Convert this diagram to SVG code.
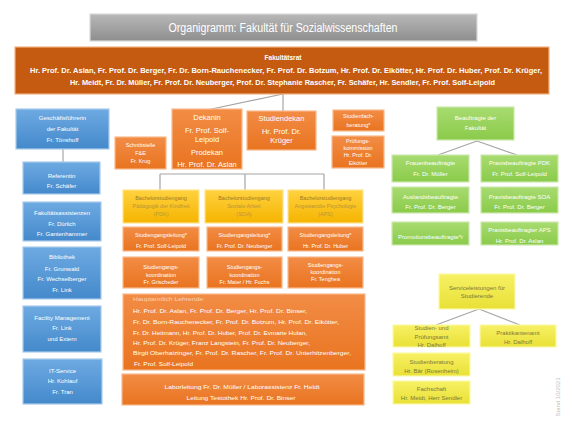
<svg xmlns="http://www.w3.org/2000/svg" width="572" height="429" viewBox="0 0 572 429">
<defs>
<linearGradient id="gGray" x1="0" y1="0" x2="0" y2="1"><stop offset="0" stop-color="#b8b8b8"/><stop offset="1" stop-color="#8e8e8e"/></linearGradient>
<linearGradient id="gOr" x1="0" y1="0" x2="0" y2="1"><stop offset="0" stop-color="#f28c45"/><stop offset="1" stop-color="#e97420"/></linearGradient>
<linearGradient id="gBl" x1="0" y1="0" x2="0" y2="1"><stop offset="0" stop-color="#6eaae2"/><stop offset="1" stop-color="#4489cb"/></linearGradient>
<linearGradient id="gGr" x1="0" y1="0" x2="0" y2="1"><stop offset="0" stop-color="#a8db70"/><stop offset="1" stop-color="#8acb4a"/></linearGradient>
<linearGradient id="gGo" x1="0" y1="0" x2="0" y2="1"><stop offset="0" stop-color="#ffd23f"/><stop offset="1" stop-color="#f5b400"/></linearGradient>
<linearGradient id="gYe" x1="0" y1="0" x2="0" y2="1"><stop offset="0" stop-color="#f7f165"/><stop offset="1" stop-color="#e9e036"/></linearGradient>
</defs>
<style>
text { font-family: "Liberation Sans", Arial, sans-serif; text-anchor: middle; }
.gray { fill: url(#gGray); stroke: #d9d9d9; stroke-width: 1.2; }
.dor { fill: #c55a11; stroke: #f4b183; stroke-width: 1.2; }
.or { fill: url(#gOr); stroke: #f8b98c; stroke-width: 1.2; }
.bl { fill: url(#gBl); stroke: #a9cbec; stroke-width: 1.2; }
.gr { fill: url(#gGr); stroke: #cde8b0; stroke-width: 1.2; }
.go { fill: url(#gGo); stroke: #ffe38a; stroke-width: 1.2; }
.ye { fill: url(#gYe); stroke: #fbf8a8; stroke-width: 1.2; }
.w { fill: #ffffff; }
.f6 { font-size: 6px; }
.f55 { font-size: 5.5px; }
.f75 { font-size: 7.5px; }
.b { font-weight: bold; }
.got1 { fill: #9c7a2a; font-size: 5.5px; }
.got2 { fill: #b8953c; font-size: 5.5px; }
.yt { fill: #7b7a3c; font-size: 6px; }
.lt { text-anchor: start; font-size: 5.6px; fill: #ffffff; }
.conn { stroke: #a6a6a6; stroke-width: 1.2; fill: none; }
</style>

<g id="connectors">
<path class="conn" d="M283,94 L207,110 M283,94 L283,111"/>
<path class="conn" d="M63,149 V162"/>
<path class="conn" d="M160,174 H324 M160,174 V190 M245,174 V190 M324,174 V190"/>
<path class="conn" d="M477,141 L438,155 M477,141 L517,155"/>
<path class="conn" d="M479,309 L436,325 M479,309 L520,325"/>
</g>

<g id="title">
<rect class="gray" x="90" y="14" width="387" height="27"/>
<text class="w" x="283" y="32" font-size="12" textLength="229" lengthAdjust="spacingAndGlyphs">Organigramm: Fakultät für Sozialwissenschaften</text>
</g>

<g id="fakultaetsrat">
<rect class="dor" x="15" y="47" width="534" height="47"/>
<text class="w b" x="283" y="60" font-size="6.5">Fakultätsrat</text>
<text class="w b" x="286" y="73" font-size="6.5" textLength="512" lengthAdjust="spacingAndGlyphs">Hr. Prof. Dr. Aslan, Fr. Prof. Dr. Berger, Fr. Dr. Born-Rauchenecker, Fr. Prof. Dr. Botzum, Hr. Prof. Dr. Eikötter, Hr. Prof. Dr. Huber, Prof. Dr. Krüger,</text>
<text class="w b" x="282.5" y="85" font-size="6.5" textLength="425" lengthAdjust="spacingAndGlyphs">Hr. Meidt, Fr. Dr. Müller, Fr. Prof. Dr. Neuberger, Prof. Dr. Stephanie Rascher,  Fr. Schäfer, Hr. Sendler, Fr. Prof. Solf-Leipold</text>
</g>

<g id="geschaeftsfuehrerin">
<rect class="bl" x="16" y="109" width="93" height="40"/>
<text class="w f6" x="62.5" y="120">Geschäftsführerin</text>
<text class="w f6" x="62.5" y="131">der Fakultät</text>
<text class="w f6" x="62.5" y="142">Fr. Tönshoff</text>
</g>
<g id="referentin">
<rect class="bl" x="23" y="162" width="77" height="32"/>
<text class="w f6" x="61.5" y="178">Referentin</text>
<text class="w f6" x="61.5" y="188">Fr. Schäfer</text>
</g>
<g id="fakultaetsassistenzen">
<rect class="bl" x="23" y="202" width="78" height="39"/>
<text class="w f6" x="62" y="215">Fakultätsassistenzen</text>
<text class="w f6" x="62" y="226">Fr. Dürlich</text>
<text class="w f6" x="62" y="236">Fr. Gantenhammer</text>
</g>
<g id="bibliothek">
<rect class="bl" x="23" y="247" width="78" height="52"/>
<text class="w f6" x="62" y="259">Bibliothek</text>
<text class="w f6" x="62" y="271">Fr. Grunwald</text>
<text class="w f6" x="62" y="281">Fr. Wechselberger</text>
<text class="w f6" x="62" y="292">Fr. Link</text>
</g>
<g id="facility">
<rect class="bl" x="23" y="306" width="78" height="46"/>
<text class="w f6" x="62" y="320">Facility Management</text>
<text class="w f6" x="62" y="330">Fr. Link</text>
<text class="w f6" x="62" y="341">und Extern</text>
</g>
<g id="itservice">
<rect class="bl" x="23" y="359" width="79" height="45"/>
<text class="w f6" x="62.5" y="373">IT-Service</text>
<text class="w f6" x="62.5" y="383">Hr. Kohlauf</text>
<text class="w f6" x="62.5" y="394">Fr. Tran</text>
</g>

<g id="schnittstelle">
<rect class="or" x="115" y="137" width="51" height="32"/>
<text class="w f55" x="140.5" y="147">Schnittstelle</text>
<text class="w f55" x="140.5" y="155">F&amp;E</text>
<text class="w f55" x="140.5" y="163">Fr. Krug</text>
</g>
<g id="dekanin">
<rect class="or" x="172" y="109" width="70" height="60"/>
<text class="w f75" x="207" y="120">Dekanin</text>
<text class="w f75" x="207" y="133">Fr. Prof. Solf-</text>
<text class="w f75" x="207" y="142">Leipold</text>
<text class="w f75" x="207" y="155">Prodekan</text>
<text class="w f75" x="207" y="167">Hr. Prof. Dr. Aslan</text>
</g>
<g id="studiendekan">
<rect class="or" x="247" y="111" width="69" height="39"/>
<text class="w f75" x="281.5" y="121">Studiendekan</text>
<text class="w f75" x="281.5" y="134">Hr. Prof. Dr.</text>
<text class="w f75" x="281.5" y="143">Krüger</text>
</g>
<g id="studienfachberatung">
<rect class="or" x="333" y="110" width="51" height="21"/>
<text class="w f55" x="358.5" y="118">Studienfach-</text>
<text class="w f55" x="358.5" y="127">beratung*</text>
</g>
<g id="pruefungskommission">
<rect class="or" x="332" y="136" width="52" height="32"/>
<text class="w f55" x="358" y="143">Prüfungs-</text>
<text class="w f55" x="358" y="150">kommission</text>
<text class="w f55" x="358" y="157">Hr. Prof. Dr.</text>
<text class="w f55" x="358" y="165">Eikötter</text>
</g>

<g id="ba-pdk">
<rect class="go" x="123" y="190" width="76" height="33"/>
<text class="got1" x="161" y="200">Bachelorstudiengang</text>
<text class="got2" x="161" y="208">Pädagogik der Kindheit</text>
<text class="got2" x="161" y="216">(PDK)</text>
</g>
<g id="ba-soa">
<rect class="go" x="205" y="190" width="78" height="33"/>
<text class="got1" x="244" y="200">Bachelorstudiengang</text>
<text class="got2" x="244" y="208">Soziale Arbeit</text>
<text class="got2" x="244" y="216">(SOA)</text>
</g>
<g id="ba-aps">
<rect class="go" x="288" y="190" width="75" height="33"/>
<text class="got1" x="325.5" y="200">Bachelorstudiengang</text>
<text class="got2" x="325.5" y="208">Angewandte Psychologie</text>
<text class="got2" x="325.5" y="216">(APS)</text>
</g>

<g id="sgl-pdk">
<rect class="or" x="123" y="227" width="76" height="24"/>
<text class="w f55" x="161" y="237">Studiengangsleitung*</text>
<text class="w f55" x="161" y="248">Fr. Prof. Solf-Leipold</text>
</g>
<g id="sgl-soa">
<rect class="or" x="207" y="227" width="75" height="24"/>
<text class="w f55" x="244.5" y="237">Studiengangsleitung*</text>
<text class="w f55" x="244.5" y="248">Fr. Prof. Dr. Neuberger</text>
</g>
<g id="sgl-aps">
<rect class="or" x="288" y="227" width="75" height="24"/>
<text class="w f55" x="325.5" y="237">Studiengangsleitung*</text>
<text class="w f55" x="325.5" y="248">Hr. Prof. Dr. Huber</text>
</g>

<g id="sgk-pdk">
<rect class="or" x="123" y="257" width="76" height="31"/>
<text class="w f55" x="161" y="269">Studiengangs-</text>
<text class="w f55" x="161" y="277">koordination</text>
<text class="w f55" x="161" y="284">Fr. Grischeder</text>
</g>
<g id="sgk-soa">
<rect class="or" x="207" y="257" width="75" height="31"/>
<text class="w f55" x="244.5" y="269">Studiengangs-</text>
<text class="w f55" x="244.5" y="277">koordination</text>
<text class="w f55" x="244.5" y="284">Fr. Maier / Hr. Fuchs</text>
</g>
<g id="sgk-aps">
<rect class="or" x="288" y="257" width="75" height="31"/>
<text class="w f55" x="325.5" y="267">Studiengangs-</text>
<text class="w f55" x="325.5" y="274">koordination</text>
<text class="w f55" x="325.5" y="281">Fr. Tenghea</text>
</g>

<g id="lehrende">
<rect class="or" x="123" y="294" width="242" height="76"/>
<text class="lt" x="133" y="301" style="fill:#fbd3b6" textLength="72" lengthAdjust="spacingAndGlyphs">Hauptamtlich Lehrende:</text>
<text class="lt" x="133" y="313" textLength="174" lengthAdjust="spacingAndGlyphs">Hr. Prof. Dr. Aslan, Fr. Prof. Dr. Berger, Hr. Prof. Dr. Binser,</text>
<text class="lt" x="133" y="324" textLength="206" lengthAdjust="spacingAndGlyphs">Fr. Dr. Born-Rauchenecker, Fr. Prof. Dr. Botzum, Hr. Prof. Dr. Eikötter,</text>
<text class="lt" x="133" y="335" textLength="174" lengthAdjust="spacingAndGlyphs">Fr. Dr. Heitmann, Hr. Prof. Dr. Huber, Prof. Dr. Evmarie Hulan,</text>
<text class="lt" x="133" y="345" textLength="177" lengthAdjust="spacingAndGlyphs">Hr. Prof. Dr. Krüger, Franz Langstein, Fr. Prof. Dr. Neuberger,</text>
<text class="lt" x="133" y="355" textLength="218" lengthAdjust="spacingAndGlyphs">Birgit Oberhaizinger, Fr. Prof. Dr. Rascher, Fr. Prof. Dr. Unterhitzenberger,</text>
<text class="lt" x="134" y="366" textLength="59" lengthAdjust="spacingAndGlyphs">Fr. Prof. Solf-Leipold</text>
</g>
<g id="labor">
<rect class="or" x="122" y="374" width="242" height="31"/>
<text class="w f55" x="242" y="389" textLength="155" lengthAdjust="spacingAndGlyphs">Laborleitung Fr. Dr. Müller / Laborassistenz Fr. Heldt</text>
<text class="w f55" x="241" y="400" textLength="109" lengthAdjust="spacingAndGlyphs">Leitung Testothek Hr. Prof. Dr. Binser</text>
</g>

<g id="beauftragte">
<rect class="gr" x="437" y="107" width="77" height="33"/>
<text class="w f6" x="475.5" y="120">Beauftragte der</text>
<text class="w f6" x="475.5" y="130">Fakultät</text>
</g>
<g id="frauen">
<rect class="gr" x="392" y="155" width="77" height="27"/>
<text class="w f6" x="430.5" y="165">Frauenbeauftragte</text>
<text class="w f6" x="430.5" y="176">Fr. Dr. Müller</text>
</g>
<g id="praxis-pdk">
<rect class="gr" x="481" y="155" width="77" height="27"/>
<text class="w f6" x="519.5" y="165">Praxisbeauftragte PDK</text>
<text class="w f6" x="519.5" y="176">Fr. Prof. Solf-Leipold</text>
</g>
<g id="auslands">
<rect class="gr" x="392" y="187" width="77" height="26"/>
<text class="w f6" x="430.5" y="199">Auslandsbeauftragte</text>
<text class="w f6" x="430.5" y="209">Fr. Prof. Dr. Berger</text>
</g>
<g id="praxis-soa">
<rect class="gr" x="481" y="187" width="77" height="26"/>
<text class="w f6" x="519.5" y="199">Praxisbeauftragte SOA</text>
<text class="w f6" x="519.5" y="209">Fr. Prof. Dr. Berger</text>
</g>
<g id="promotion">
<rect class="gr" x="392" y="222" width="77" height="23"/>
<text class="w f6" x="430.5" y="239">Promotionsbeauftragte*r</text>
</g>
<g id="praxis-aps">
<rect class="gr" x="481" y="222" width="77" height="23"/>
<text class="w f6" x="519.5" y="232">Praxisbeauftragter APS</text>
<text class="w f6" x="519.5" y="243">Hr. Prof. Dr. Aslan</text>
</g>

<g id="service">
<rect class="ye" x="439" y="274" width="76" height="35"/>
<text class="yt" x="477" y="290">Serviceleistungen für</text>
<text class="yt" x="477" y="298">Studierende</text>
</g>
<g id="pruefungsamt">
<rect class="ye" x="393" y="325" width="77" height="22"/>
<text class="yt" x="431.5" y="330">Studien- und</text>
<text class="yt" x="431.5" y="339">Prüfungsamt</text>
<text class="yt" x="431.5" y="347">Hr. Dalhoff</text>
</g>
<g id="praktikantenamt">
<rect class="ye" x="480" y="325" width="76" height="22"/>
<text class="yt" x="518" y="335">Praktikantenamt</text>
<text class="yt" x="518" y="344">Hr. Dalhoff</text>
</g>
<g id="studienberatung">
<rect class="ye" x="393" y="353" width="77" height="23"/>
<text class="yt" x="431.5" y="364">Studienberatung</text>
<text class="yt" x="431.5" y="373">Hr. Bär (Rosenheim)</text>
</g>
<g id="fachschaft">
<rect class="ye" x="393" y="381" width="77" height="23"/>
<text class="yt" x="431.5" y="391">Fachschaft</text>
<text class="yt" x="431.5" y="400">Hr. Meidt, Herr Sendler</text>
</g>

<text x="560" y="397" font-size="6" fill="#bfbfbf" transform="rotate(-90 560 397)">Stand 10/2023</text>
</svg>
